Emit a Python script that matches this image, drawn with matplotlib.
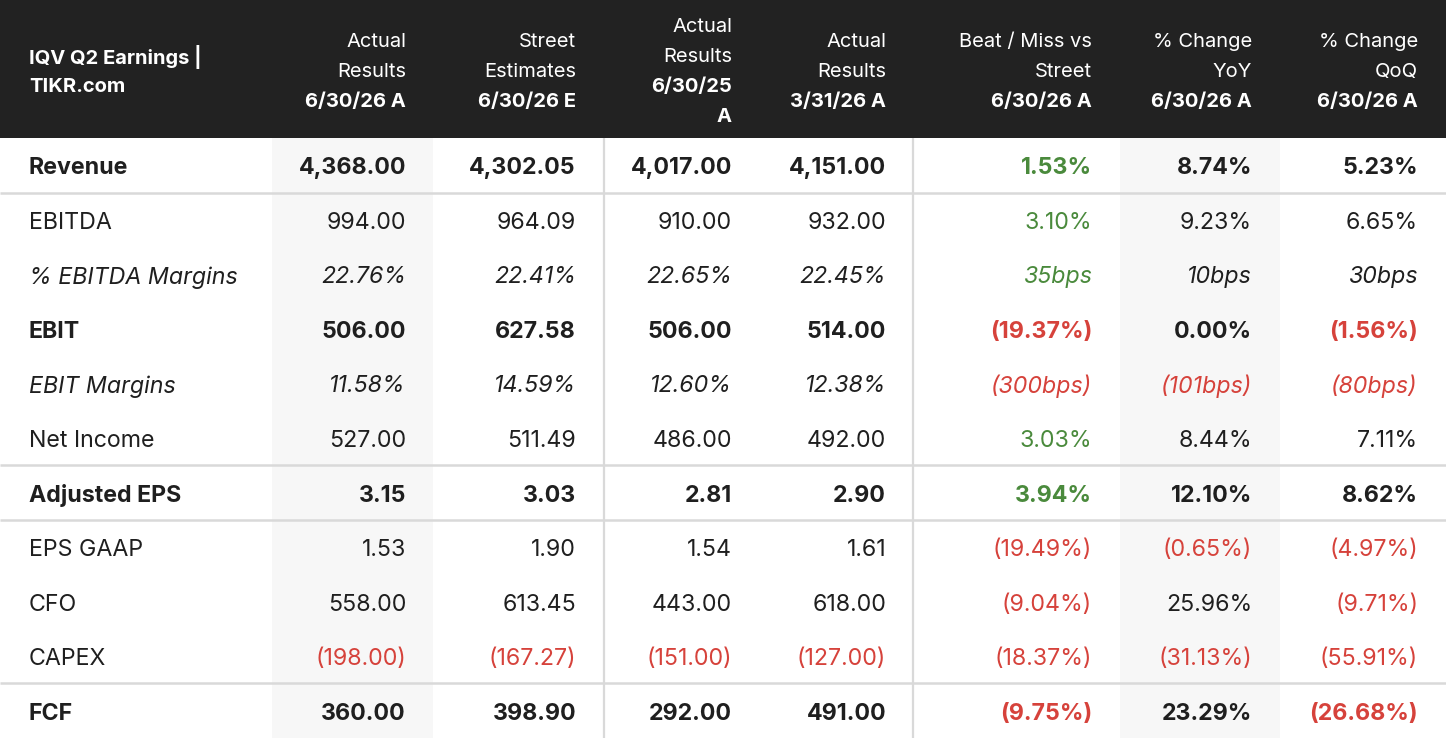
import matplotlib
matplotlib.use("Agg")
import matplotlib.pyplot as plt
from matplotlib.patches import Rectangle

plt.rcParams['font.family'] = ['Inter', 'DejaVu Sans']

# ---- data ----
title_lines = ["IQV Q2 Earnings |", "TIKR.com"]
col_headers = [
    ["Actual", "Results"],
    ["Street", "Estimates"],
    ["Actual", "Results"],
    ["Actual", "Results"],
    ["Beat / Miss vs", "Street"],
    ["% Change", "YoY"],
    ["% Change", "QoQ"],
]
col_dates = [["6/30/26 A"], ["6/30/26 E"], ["6/30/25", "A"], ["3/31/26 A"],
             ["6/30/26 A"], ["6/30/26 A"], ["6/30/26 A"]]

rows = ["Revenue", "EBITDA", "% EBITDA Margins", "EBIT", "EBIT Margins",
        "Net Income", "Adjusted EPS", "EPS GAAP", "CFO", "CAPEX", "FCF"]
bold_rows = ["Revenue", "EBIT", "Adjusted EPS", "FCF"]
italic_rows = ["% EBITDA Margins", "EBIT Margins"]

actual = ["4,368.00", "994.00", "22.76%", "506.00", "11.58%", "527.00", "3.15",
          "1.53", "558.00", "(198.00)", "360.00"]
street = ["4,302.05", "964.09", "22.41%", "627.58", "14.59%", "511.49", "3.03",
          "1.90", "613.45", "(167.27)", "398.90"]
prior_year = ["4,017.00", "910.00", "22.65%", "506.00", "12.60%", "486.00", "2.81",
              "1.54", "443.00", "(151.00)", "292.00"]
prior_q = ["4,151.00", "932.00", "22.45%", "514.00", "12.38%", "492.00", "2.90",
           "1.61", "618.00", "(127.00)", "491.00"]
beat_miss = ["1.53%", "3.10%", "35bps", "(19.37%)", "(300bps)", "3.03%", "3.94%",
             "(19.49%)", "(9.04%)", "(18.37%)", "(9.75%)"]
yoy = ["8.74%", "9.23%", "10bps", "0.00%", "(101bps)", "8.44%", "12.10%",
       "(0.65%)", "25.96%", "(31.13%)", "23.29%"]
qoq = ["5.23%", "6.65%", "30bps", "(1.56%)", "(80bps)", "7.11%", "8.62%",
       "(4.97%)", "(9.71%)", "(55.91%)", "(26.68%)"]
columns = [actual, street, prior_year, prior_q, beat_miss, yoy, qoq]

# ---- layout / style ----
W, H = 1446, 738
HEADER_H = 138
ROW_H = (H - HEADER_H) / len(rows)
col_right = [406, 576, 732, 886, 1092, 1252, 1418]
shaded_cols = [(272, 433), (1120, 1280)]
vlines = [604, 913]
hlines_after = ["Revenue", "Net Income", "Adjusted EPS", "CAPEX"]
DARK = "#222222"
TEXT = "#1f1f1f"
GREEN = "#4a8a3c"
RED = "#d6423b"
GRID = "#d9d9d9"
SHADE = "#f7f7f7"
FS = 16.7
HFS = 14.5
DY = 3  # vertical optical offset (px)

fig = plt.figure(figsize=(W / 100, H / 100), dpi=100)
ax = fig.add_axes([0, 0, 1, 1])
ax.set_xlim(0, W)
ax.set_ylim(H, 0)
ax.axis("off")

# shading
for x0, x1 in shaded_cols:
    ax.add_patch(Rectangle((x0, HEADER_H), x1 - x0, H - HEADER_H, color=SHADE, lw=0, zorder=0))

# header
ax.add_patch(Rectangle((0, 0), W, HEADER_H, color=DARK, lw=0, zorder=1))
LINE = 30
ty0 = HEADER_H / 2 - LINE * (len(title_lines) - 1) / 2 + DY
for k, t in enumerate(title_lines):
    ax.text(29, ty0 + k * LINE, t, color="white", fontsize=HFS, fontweight="bold",
            ha="left", va="center", zorder=3)
for c, (hdr, dates) in enumerate(zip(col_headers, col_dates)):
    lines = [(h, "normal") for h in hdr] + [(d, "bold") for d in dates]
    y0 = HEADER_H / 2 - LINE * (len(lines) - 1) / 2 + DY
    for k, (t, w) in enumerate(lines):
        ax.text(col_right[c], y0 + k * LINE, t, color="white", fontsize=HFS,
                fontweight=w, ha="right", va="center", zorder=3)

# grid lines
for x in vlines:
    ax.plot([x, x], [HEADER_H, H], color=GRID, lw=1.6, zorder=2, solid_capstyle="butt")
for r in hlines_after:
    i = rows.index(r)
    y = HEADER_H + (i + 1) * ROW_H
    ax.plot([0, W], [y, y], color=GRID, lw=1.8, zorder=2, solid_capstyle="butt")

# body
for i, name in enumerate(rows):
    y = HEADER_H + (i + 0.5) * ROW_H + DY
    weight = "bold" if name in bold_rows else "normal"
    style = "italic" if name in italic_rows else "normal"
    ax.text(29, y, name, color=TEXT, fontsize=FS, fontweight=weight, fontstyle=style,
            ha="left", va="center", zorder=3)
    for c, col in enumerate(columns):
        val = col[i]
        if val.startswith("("):
            color = RED
        elif c == 4:
            color = GREEN
        else:
            color = TEXT
        ax.text(col_right[c], y, val, color=color, fontsize=FS, fontweight=weight,
                fontstyle=style, ha="right", va="center", zorder=3)

fig.savefig("out.png", dpi=100, facecolor="white")
